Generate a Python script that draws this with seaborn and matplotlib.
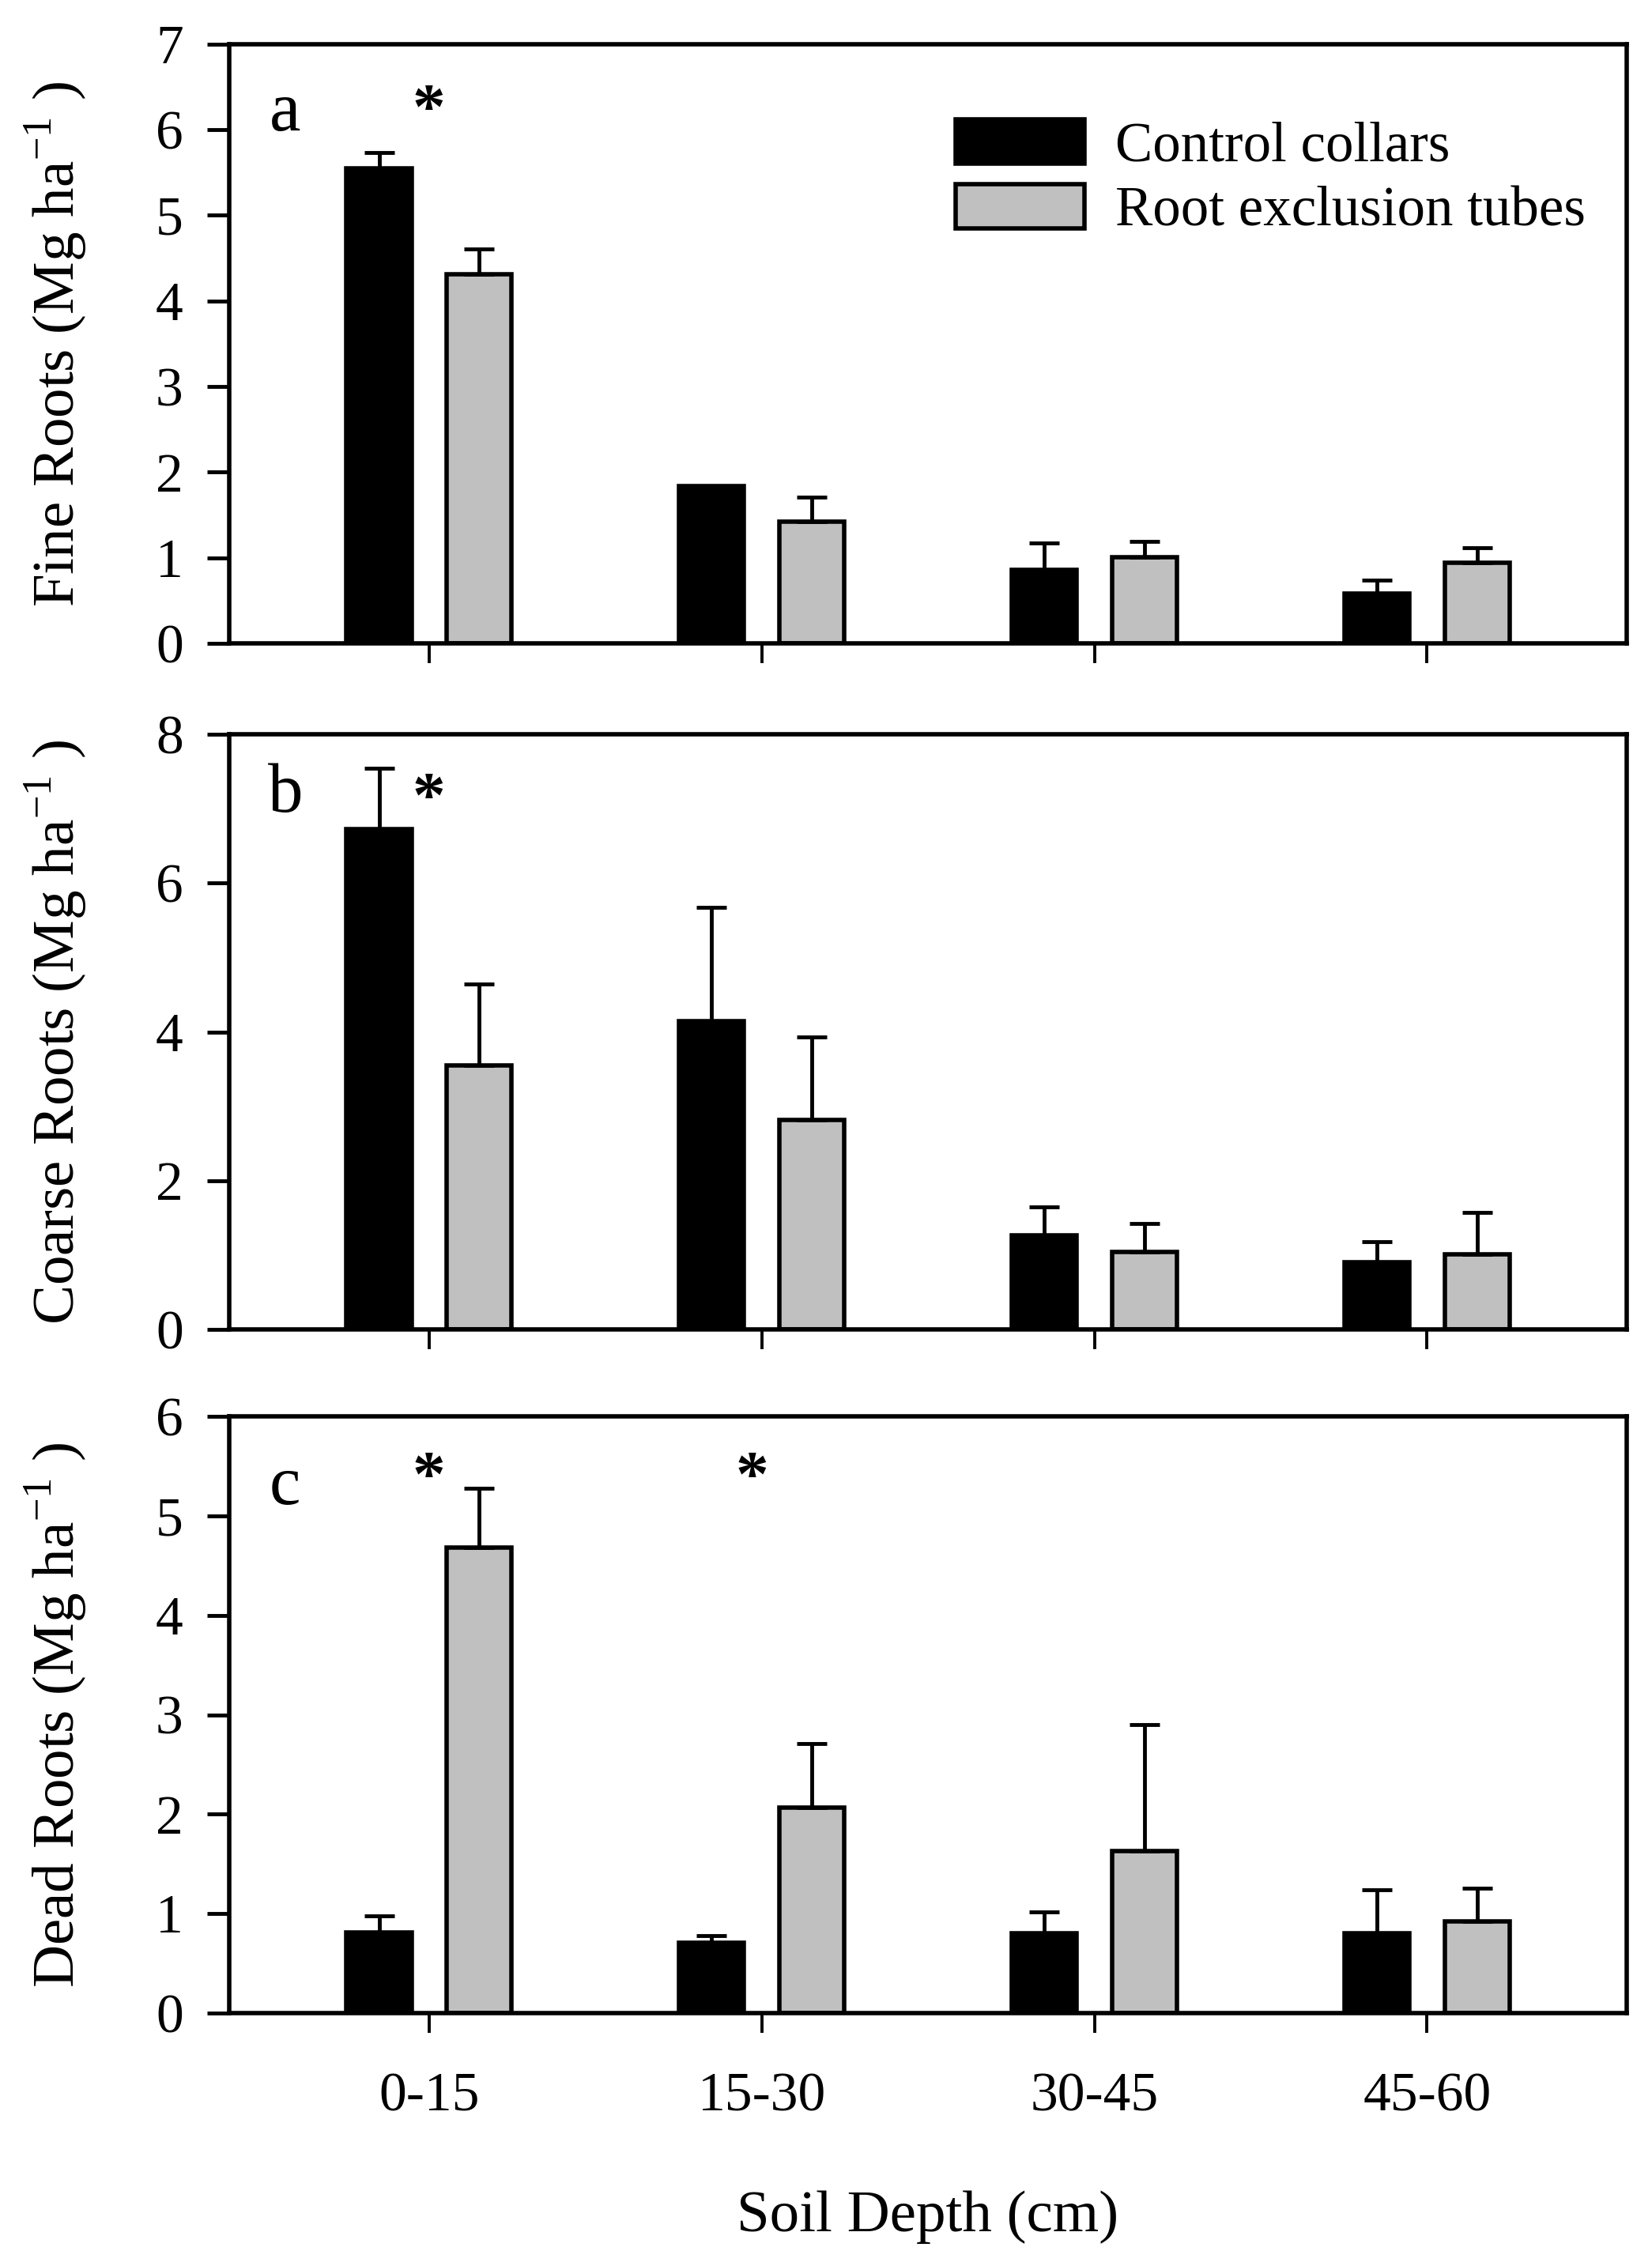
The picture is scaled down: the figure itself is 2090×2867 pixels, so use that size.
import numpy as np
import pandas as pd
import matplotlib
matplotlib.use("Agg")
import matplotlib.pyplot as plt
import seaborn as sns

depths = ["0-15", "15-30", "30-45", "45-60"]
treatments = ["Control collars", "Root exclusion tubes"]

fine_ctrl = [5.55, 1.84, 0.86, 0.58]
fine_ctrl_se = [0.18, 0.0, 0.31, 0.16]
fine_tube = [4.31, 1.42, 1.01, 0.94]
fine_tube_se = [0.30, 0.29, 0.18, 0.18]

coarse_ctrl = [6.73, 4.14, 1.26, 0.90]
coarse_ctrl_se = [0.81, 1.54, 0.39, 0.28]
coarse_tube = [3.55, 2.82, 1.04, 1.01]
coarse_tube_se = [1.09, 1.11, 0.38, 0.56]

dead_ctrl = [0.81, 0.71, 0.80, 0.80]
dead_ctrl_se = [0.17, 0.07, 0.22, 0.44]
dead_tube = [4.68, 2.07, 1.63, 0.92]
dead_tube_se = [0.60, 0.64, 1.27, 0.34]

ylabels = ["Fine Roots", "Coarse Roots", "Dead Roots"]
letters = ["a", "b", "c"]
ylims = [7, 8, 6]
yticks = [np.arange(0, 8, 1), np.arange(0, 9, 2), np.arange(0, 7, 1)]
# significance stars: (x category position, y value)
stars = [[(0, 6.2)], [(0, 7.1)], [(0, 5.36), (0.97, 5.36)]]

panels = [
    (fine_ctrl, fine_ctrl_se, fine_tube, fine_tube_se),
    (coarse_ctrl, coarse_ctrl_se, coarse_tube, coarse_tube_se),
    (dead_ctrl, dead_ctrl_se, dead_tube, dead_tube_se),
]

sns.set_style("ticks")
plt.rcParams["font.family"] = ["Liberation Serif", "DejaVu Serif"]
plt.rcParams["mathtext.fontset"] = "custom"
plt.rcParams["mathtext.rm"] = "Liberation Serif"
for key in ["axes.edgecolor", "xtick.color", "ytick.color", "text.color",
            "axes.labelcolor"]:
    plt.rcParams[key] = "black"

fig = plt.figure(figsize=(20.9, 28.67), dpi=100)
positions = [
    [0.1388, 0.7161, 0.8459, 0.2644],
    [0.1388, 0.4133, 0.8459, 0.2626],
    [0.1388, 0.1116, 0.8459, 0.2633],
]

for i, (ctrl, ctrl_se, tube, tube_se) in enumerate(panels):
    ax = fig.add_axes(positions[i])
    df = pd.DataFrame({
        "depth": depths * 2,
        "treatment": [treatments[0]] * 4 + [treatments[1]] * 4,
        "value": list(ctrl) + list(tube),
        "se": list(ctrl_se) + list(tube_se),
    })
    sns.barplot(data=df, x="depth", y="value", hue="treatment",
                hue_order=treatments, order=depths,
                palette=["black", "#C0C0C0"], edgecolor="black",
                linewidth=4, width=0.6, gap=0.35, errorbar=None,
                legend=(i == 0), ax=ax)
    bar_groups = list(ax.containers)
    for cont, tr in zip(bar_groups, treatments):
        sub = df[df["treatment"] == tr]
        xs = [b.get_x() + b.get_width() / 2 for b in cont]
        ax.errorbar(xs, sub["value"], yerr=[np.zeros(len(sub)), sub["se"]],
                    fmt="none", ecolor="black", elinewidth=3.5,
                    capsize=14, capthick=3.5, zorder=1)

    ax.set_xlim(-0.6, 3.6)
    ax.set_ylim(0, ylims[i])
    ax.set_yticks(yticks[i])
    ax.tick_params(axis="y", direction="out", length=20, width=3.5,
                   labelsize=50, pad=22)
    ax.tick_params(axis="x", direction="out", length=18, width=2.8,
                   labelsize=50, pad=36)
    if i < 2:
        ax.set_xticklabels([])
        ax.set_xlabel("")
    else:
        ax.set_xlabel("Soil Depth (cm)", fontsize=54, labelpad=62)
    ax.set_ylabel(ylabels[i] + r" (Mg ha$^{\mathregular{-1}}$ )", fontsize=54)
    ax.yaxis.set_label_coords(-0.10, 0.5)
    for sp in ax.spines.values():
        sp.set_linewidth(4)

    ax.text(0.04, [0.885, 0.899, 0.882][i], letters[i], transform=ax.transAxes,
            fontsize=64, ha="center", va="center")
    for sx, sy in stars[i]:
        ax.text(sx, sy, "*", fontsize=60, ha="center", va="center",
                fontweight="bold")

    if i == 0:
        handles, labels = ax.get_legend_handles_labels()
        ax.legend(handles, labels, loc="upper left",
                  bbox_to_anchor=(0.52, 0.875), frameon=False, fontsize=51,
                  handlelength=2.3, handleheight=0.85, handletextpad=0.55,
                  labelspacing=0.2, borderpad=0, borderaxespad=0)

fig.savefig("out.png", dpi=100)
